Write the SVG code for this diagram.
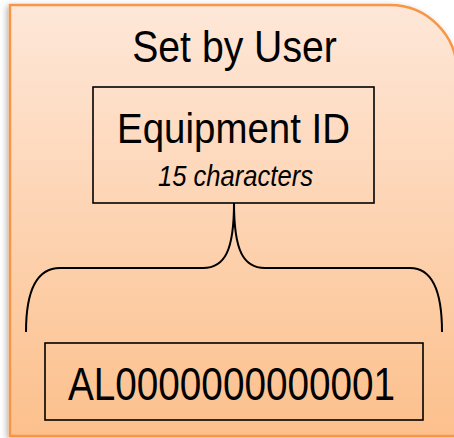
<svg xmlns="http://www.w3.org/2000/svg" width="454" height="438" viewBox="0 0 454 438">
  <style>
    .txt { font-family: "Liberation Sans Narrow", "Liberation Sans", Arial, sans-serif; fill: #000; text-anchor: middle; }
    .box { fill: none; stroke: #000; stroke-width: 1.6; }
    .conn { fill: none; stroke: #000; stroke-width: 2; }
  </style>
  <defs>
    <linearGradient id="bg" x1="0" y1="0" x2="0" y2="1">
      <stop offset="0" stop-color="#FEE7D8"/>
      <stop offset="1" stop-color="#FCC08C"/>
    </linearGradient>
    <filter id="shadow" x="-10%" y="-10%" width="120%" height="120%">
      <feDropShadow dx="-2" dy="2" stdDeviation="3" flood-color="#000" flood-opacity="0.3"/>
    </filter>
  </defs>
  <g id="panel">
    <path d="M10,5 L390,5 A67,67 0 0 1 457,72 L457,436 L10,436 Z" fill="url(#bg)" stroke="#F79646" stroke-width="2.5" filter="url(#shadow)"/>
    <g transform="translate(234.5,62) scale(0.89,1)">
      <text class="txt" x="0" y="0" font-size="44">Set by User</text>
    </g>
  </g>
  <g id="equipment-id">
    <rect class="box" x="93" y="87" width="281" height="116"/>
    <g transform="translate(233.5,143) scale(0.894,1)">
      <text class="txt" x="0" y="0" font-size="43">Equipment ID</text>
    </g>
    <g transform="translate(235.5,186) scale(0.853,1)">
      <text class="txt" x="0" y="0" font-size="30" font-style="italic">15 characters</text>
    </g>
  </g>
  <g id="value">
    <rect class="box" x="45" y="343" width="378" height="77"/>
    <g transform="translate(231.5,400) scale(0.824,1)">
      <text class="txt" x="0" y="0" font-size="47">AL0000000000001</text>
    </g>
  </g>
  <g id="connectors">
    <path class="conn" d="M26,332 C26,292 36,268 60,268 L203,268 C225,268 234,250 234,203 C234,250 243,268 265,268 L410,268 C433,268 442,292 442,332"/>
  </g>
</svg>
